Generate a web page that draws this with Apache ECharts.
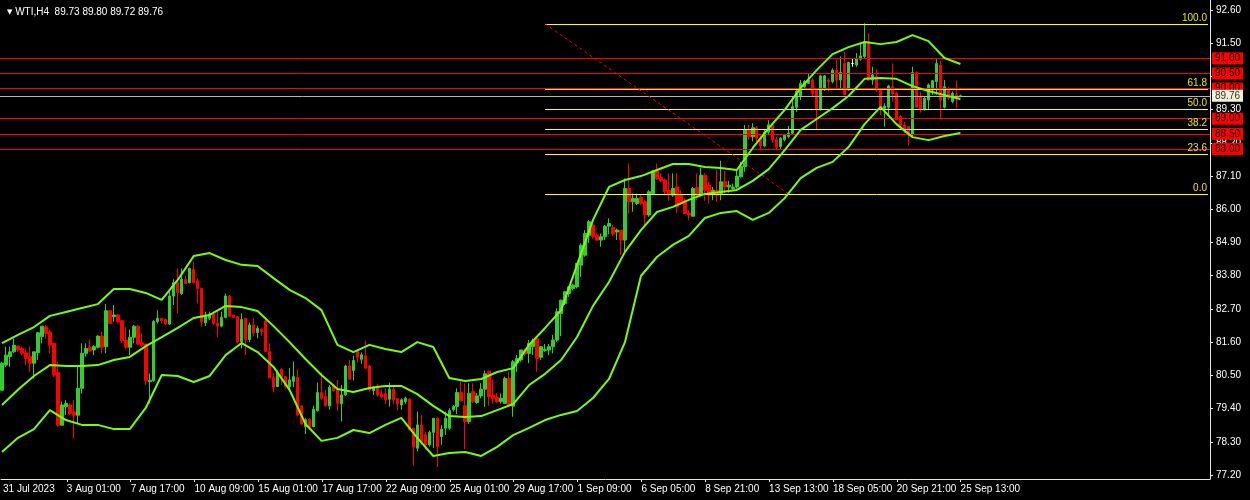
<!DOCTYPE html>
<html><head><meta charset="utf-8">
<script src="https://cdn.jsdelivr.net/npm/echarts/dist/echarts.min.js"></script>
<style>html,body{margin:0;padding:0;background:#000;}#c{width:1250px;height:500px;}</style>
</head><body><div id="c"></div>
<script>
const symbolName = 'WTI,H4';
const open = [80.01,80.84,81.12,81.28,81.47,81.39,81.25,81.12,80.90,81.25,81.78,82.11,81.94,81.56,80.59,78.85,79.46,79.52,79.29,79.18,80.07,81.23,81.43,81.34,81.43,81.80,81.45,82.64,82.44,82.50,82.31,81.67,81.43,81.76,82.13,81.58,81.54,80.29,80.32,82.28,82.39,82.35,82.20,83.13,83.57,83.21,83.68,83.57,84.01,83.63,83.38,82.24,82.39,82.53,82.22,82.13,82.42,83.13,82.50,82.44,81.61,82.39,81.69,82.17,81.92,82.03,82.30,81.29,80.44,80.13,80.70,80.46,80.13,80.30,80.44,79.49,78.80,79.05,78.80,79.33,79.93,79.80,79.49,80.15,80.02,79.56,79.85,80.81,80.66,81.29,81.03,81.15,80.81,80.00,80.15,79.89,79.89,79.71,80.04,79.73,79.52,79.63,79.71,78.75,78.09,78.86,78.53,78.20,78.61,79.08,78.47,78.75,78.75,79.36,79.47,79.93,79.49,78.97,79.96,79.60,79.82,80.04,80.63,79.85,79.78,79.63,79.57,80.40,79.48,80.92,81.01,81.34,81.23,81.45,81.72,81.10,81.32,81.34,81.45,81.67,82.55,82.88,83.21,83.38,83.43,84.15,84.48,85.14,85.48,85.14,84.98,85.09,85.44,85.40,85.25,85.31,84.98,86.69,86.25,86.19,86.39,86.25,85.81,86.52,87.27,87.05,86.97,86.63,86.47,86.74,86.50,86.30,85.88,85.77,86.72,86.50,87.13,86.80,86.50,86.63,86.52,86.91,86.74,86.69,86.74,87.08,87.41,88.63,88.40,88.70,88.35,88.10,88.55,88.80,88.30,88.07,88.30,88.41,88.52,89.38,89.75,90.06,90.17,90.28,89.95,89.29,89.95,90.28,90.23,90.61,90.28,90.83,89.95,90.83,90.78,90.97,91.06,91.55,90.28,90.39,89.93,89.34,89.38,90.06,89.84,89.07,88.79,88.74,88.46,90.53,89.73,89.31,89.62,89.95,90.23,90.78,89.38,89.95,89.57,89.79,89.73];
const high = [80.95,81.45,81.45,81.72,81.50,81.45,81.39,81.45,81.28,81.94,82.13,82.17,82.00,81.56,80.95,79.63,79.68,79.57,79.68,80.78,81.56,81.56,81.69,81.50,81.83,81.94,82.86,82.64,82.83,82.53,82.33,82.09,82.02,82.17,82.17,81.89,81.54,80.56,82.33,82.66,82.39,82.39,83.27,83.68,84.04,84.04,83.79,84.07,84.26,83.71,83.38,82.61,82.61,82.55,82.61,82.61,83.21,83.16,82.50,82.46,82.55,82.39,82.25,82.39,82.14,82.06,82.36,81.56,80.59,80.66,80.74,80.48,80.74,80.96,80.70,79.49,79.08,79.08,79.49,80.26,80.59,80.02,80.18,80.18,80.35,80.18,80.85,81.01,81.15,81.37,81.26,81.65,80.85,80.15,80.22,80.04,80.07,80.26,80.18,79.74,79.74,79.80,79.74,78.75,79.30,79.19,78.61,78.67,79.08,79.11,78.86,79.30,79.41,79.52,80.07,80.30,80.24,80.24,80.24,79.91,80.24,80.66,80.66,80.37,79.91,79.90,80.46,80.62,81.01,81.17,81.34,81.39,81.67,81.72,81.72,81.47,81.54,81.54,81.84,82.72,83.01,83.30,83.45,83.54,84.21,84.87,85.31,85.64,85.53,85.20,85.20,85.48,85.70,85.48,85.36,85.31,87.02,87.52,86.52,86.52,86.47,86.30,86.63,87.30,87.52,87.19,87.02,87.19,87.19,87.19,86.63,86.36,85.97,86.74,87.19,87.38,87.19,86.91,86.74,87.30,87.61,87.27,86.94,86.85,87.30,87.57,88.79,88.80,88.85,88.75,88.45,88.65,88.95,88.85,88.40,88.40,88.50,88.76,89.73,89.95,90.28,90.28,90.50,90.34,90.01,90.45,90.45,90.34,90.67,90.95,91.06,91.22,90.89,91.00,91.17,91.50,92.16,91.83,90.72,90.64,89.93,89.51,90.12,90.83,89.90,89.12,88.90,88.76,90.72,90.56,89.90,89.73,90.17,90.28,90.97,90.92,90.28,90.06,89.90,90.26,89.80];
const low = [79.98,80.78,80.78,81.23,81.28,81.17,80.84,80.62,80.40,81.01,81.56,81.72,81.23,80.45,78.80,78.85,79.18,79.18,78.41,78.91,79.90,81.12,81.28,81.17,81.39,81.23,81.23,82.22,82.28,82.22,81.56,81.36,81.17,81.56,81.50,81.45,80.18,79.57,80.29,82.22,82.22,82.17,82.17,82.83,82.55,83.16,83.52,83.54,83.54,82.88,82.11,82.13,82.33,82.17,81.76,82.09,82.39,82.44,82.39,81.56,81.39,81.17,81.60,81.79,81.73,81.81,81.29,80.41,79.93,80.11,80.18,80.07,79.96,80.11,79.14,78.86,78.56,78.69,78.78,79.30,79.69,79.47,79.36,79.96,79.33,78.97,79.82,80.35,80.33,80.92,80.88,80.70,79.96,79.85,79.80,79.74,79.56,79.47,79.56,79.33,79.36,79.56,78.69,77.50,77.98,78.20,78.05,78.14,78.09,77.46,78.20,78.53,78.69,79.30,79.22,79.63,78.05,78.89,79.58,79.56,79.74,79.45,79.49,79.56,79.58,79.57,79.57,79.46,79.13,80.62,80.95,81.14,80.90,81.17,80.62,81.01,81.28,81.17,81.23,81.61,81.80,82.83,83.10,83.32,83.38,83.76,84.43,84.89,85.03,84.96,84.76,84.98,85.18,85.11,84.98,84.48,84.54,85.86,85.92,86.14,86.14,85.47,85.75,86.47,86.97,86.91,86.47,86.28,86.41,85.88,86.14,85.84,85.64,85.75,86.30,86.47,86.28,86.19,86.30,86.25,86.30,86.52,86.55,86.63,86.69,87.05,87.24,88.30,88.25,88.20,87.95,88.05,88.45,88.20,87.95,88.00,88.25,88.35,88.46,89.23,89.62,89.95,90.15,89.73,88.63,89.27,89.93,89.90,90.17,90.01,90.01,89.79,89.93,90.72,90.72,90.92,91.00,90.26,90.12,89.90,89.12,88.74,89.12,89.57,88.96,88.74,88.52,88.10,88.41,89.38,89.20,89.27,89.31,89.79,89.79,88.98,89.34,89.62,89.51,89.34,89.72];
const close = [80.90,81.17,81.28,81.50,81.34,81.23,81.06,80.90,81.28,81.91,82.13,81.89,81.50,80.51,78.85,79.52,79.57,79.24,79.18,80.07,81.23,81.39,81.31,81.45,81.80,81.43,82.64,82.22,82.50,82.28,81.65,81.43,81.76,82.13,81.54,81.50,80.32,80.34,82.28,82.39,82.31,82.20,83.13,83.57,83.24,83.68,83.54,84.04,83.57,83.38,82.28,82.50,82.53,82.22,82.13,82.42,83.13,82.46,82.42,81.61,82.35,81.69,82.17,81.90,82.06,81.95,81.29,80.41,80.11,80.59,80.44,80.13,80.35,80.46,79.19,78.89,79.03,78.78,79.38,79.93,79.74,79.49,80.11,80.00,79.58,79.85,80.81,80.37,80.99,81.10,81.18,80.74,80.02,80.11,79.85,79.78,79.69,80.04,79.69,79.56,79.69,79.74,78.69,78.12,78.86,78.31,78.20,78.61,79.08,78.14,78.72,79.08,79.33,79.47,79.93,79.67,78.97,79.91,79.63,79.82,80.04,80.55,79.80,79.74,79.63,79.74,80.40,79.52,80.95,81.06,81.34,81.21,81.56,81.65,81.06,81.45,81.36,81.45,81.67,82.61,82.99,83.27,83.43,83.49,84.21,84.81,85.20,85.59,85.09,84.98,85.09,85.44,85.53,85.18,85.31,84.98,86.69,86.25,86.36,86.36,86.19,85.81,86.58,87.27,87.02,86.94,86.58,86.50,86.69,86.08,86.19,85.86,85.81,86.69,86.47,87.13,86.63,86.47,86.63,86.47,86.91,86.74,86.80,86.74,87.10,87.43,88.63,88.40,88.70,88.35,88.10,88.55,88.80,88.30,88.05,88.35,88.46,88.52,89.40,89.90,90.17,90.23,90.28,89.84,89.29,90.42,90.42,90.23,90.61,90.28,90.53,89.79,90.86,90.83,91.00,91.08,91.55,90.28,90.45,89.95,89.38,89.42,90.08,89.82,88.96,88.79,88.63,88.46,90.53,89.38,89.29,89.68,90.12,90.26,90.83,89.62,90.06,89.68,89.84,89.71,89.76];

// Bollinger bands read every 4th bar
const bandStep = 4;
const upperBand = [81.57,81.84,82.10,82.47,82.60,82.73,82.86,83.36,83.36,83.23,83.00,83.66,84.45,84.55,84.32,84.16,84.12,83.72,83.33,83.06,82.66,81.51,81.27,81.51,81.37,81.27,81.60,81.44,80.41,80.31,80.38,80.61,80.74,81.51,82.07,82.66,84.16,85.65,86.74,86.97,87.10,87.30,87.50,87.50,87.40,87.37,87.30,88.03,88.69,89.29,90.02,90.61,91.14,91.37,91.54,91.47,91.54,91.77,91.57,91.01,90.81];
const middleBand = [79.52,80.02,80.48,80.84,80.81,80.81,80.84,81.01,81.11,81.47,81.77,82.07,82.40,82.50,82.80,82.76,82.63,82.13,81.60,81.04,80.51,80.05,79.95,80.08,80.15,80.15,79.88,79.49,79.15,79.12,79.15,79.35,79.55,80.18,80.55,81.01,81.77,82.80,83.59,84.59,85.31,85.91,86.08,86.31,86.51,86.57,86.64,86.94,87.33,87.96,88.63,88.99,89.35,89.75,90.32,90.35,90.32,90.08,89.92,89.78,89.65];
const lowerBand = [77.96,78.43,78.72,79.35,79.02,78.86,78.86,78.72,78.72,79.42,80.51,80.48,80.28,80.48,81.17,81.57,81.27,80.78,80.02,78.89,78.33,78.43,78.69,78.59,78.86,79.09,78.43,77.83,77.93,77.96,77.83,78.13,78.52,78.76,79.02,79.19,79.32,79.75,80.38,81.60,83.79,84.42,84.82,85.12,85.71,85.88,85.94,85.65,85.88,86.37,87.03,87.37,87.57,88.06,88.82,89.39,88.82,88.39,88.29,88.43,88.53];

const tickBars = [0,16,32,48,64,80,96,112,128,144,160,176,192,208,224,240];
const tickLabels = ['31 Jul 2023','3 Aug 01:00','7 Aug 17:00','10 Aug 09:00','15 Aug 01:00','17 Aug 17:00','22 Aug 09:00','25 Aug 01:00','29 Aug 17:00','1 Sep 09:00','6 Sep 05:00','8 Sep 21:00','13 Sep 13:00','18 Sep 05:00','20 Sep 21:00','25 Sep 13:00'];
const priceTicks = [77.20,78.30,79.40,80.50,81.60,82.70,83.80,84.90,86.00,87.10,88.20,89.30,90.40,91.50,92.60];

const levelLines = [91.00, 90.50, 90.00, 89.00, 88.50, 88.00];
const fibRatios = [0.0, 23.6, 38.2, 50.0, 61.8, 100.0];
const fibHigh = 92.14, fibLow = 86.51;
const fibStartBar = 136, fibEndBar = 197;
const totalSlots = 303;

const FONT = "'Liberation Sans', Arial, sans-serif";
const cats = Array.from({length: totalSlots}, (_, i) => { const k = tickBars.indexOf(i); return k >= 0 ? tickLabels[k] : ''; });
const candles = open.map((o, i) => [o, close[i], low[i], high[i]]);
const bandData = arr => arr.map((v, k) => [k * bandStep, v]);
const last = open.length - 1;
const lastPrice = close[last];

const fibLevel = r => fibLow + (fibHigh - fibLow) * r / 100;

const levelMarks = levelLines.map(v => ({
  yAxis: v,
  lineStyle: {color: '#ff0000', width: 1, type: 'solid'},
  label: {show: true, position: 'end', distance: 2, formatter: () => v.toFixed(2),
    backgroundColor: '#ff0000', color: '#000000', padding: [1, 3, 0, 3], fontSize: 10, lineHeight: 11, fontFamily: FONT}
}));
levelMarks.push({
  yAxis: lastPrice,
  lineStyle: {color: '#b4b4b4', width: 1, type: 'solid'},
  label: {show: true, position: 'end', distance: 2, formatter: () => lastPrice.toFixed(2),
    backgroundColor: '#f4f0d8', color: '#303030', padding: [1, 3, 0, 3], fontSize: 10, lineHeight: 11, fontFamily: FONT}
});
const fibMarks = fibRatios.map(r => [
  {coord: [fibStartBar, fibLevel(r)], lineStyle: {color: '#ffff00', width: 1, type: 'solid'},
   label: {show: true, position: 'insideEndTop', distance: 1, formatter: () => r.toFixed(1), color: '#e6e600', fontSize: 10, fontFamily: FONT}},
  {coord: [totalSlots - 1, fibLevel(r)]}
]);
fibMarks.push([
  {coord: [fibStartBar, fibHigh], lineStyle: {color: '#ff0000', width: 1, type: [3, 3]}, label: {show: false}},
  {coord: [fibEndBar, fibLow]}
]);

const chart = echarts.init(document.getElementById('c'), null, {renderer: 'canvas'});
const bandSeries = (name, arr) => ({
  name, type: 'line', xAxisIndex: 0, yAxisIndex: 0, data: bandData(arr), showSymbol: false, symbol: 'none',
  lineStyle: {color: '#7cfc00', width: 2}, z: 5, silent: true, animation: false
});
chart.setOption({
  backgroundColor: '#000000',
  animation: false,
  textStyle: {fontFamily: FONT},
  title: {
    text: '{t|▼} ' + symbolName + '  ' + [open[last], high[last], low[last], close[last]].map(v => v.toFixed(2)).join(' '),
    left: 2, top: 2,
    textStyle: {color: '#ffffff', fontSize: 10, fontWeight: 'normal', fontFamily: FONT,
      rich: {t: {fontSize: 7, color: '#ffffff', fontFamily: "'DejaVu Sans'"}}}
  },
  grid: [
    {left: -2, right: 40, top: 10, bottom: 25},
    {left: -2, right: 40, top: 0, bottom: 21}
  ],
  xAxis: [
    {type: 'category', gridIndex: 0, data: cats, boundaryGap: true, show: false},
    {type: 'category', gridIndex: 1, data: cats, boundaryGap: true,
      axisLine: {show: true, lineStyle: {color: '#e8e8dc', width: 1}},
      axisTick: {show: true, alignWithLabel: true, length: 3, interval: (i, v) => v !== '' && i > 0, lineStyle: {color: '#e8e8dc'}},
      axisLabel: {show: true, interval: (i, v) => v !== '', align: 'left', color: '#ffffff', fontSize: 10, margin: 5, fontFamily: FONT},
      splitLine: {show: false}}
  ],
  yAxis: [
    {type: 'value', gridIndex: 0, position: 'right', min: priceTicks[0], max: priceTicks[priceTicks.length - 1], interval: 1.1,
      axisLine: {show: false}, axisTick: {show: true, length: 3, lineStyle: {color: '#e8e8dc'}},
      axisLabel: {color: '#ffffff', fontSize: 10, margin: 6, fontFamily: FONT, formatter: v => v.toFixed(2)},
      splitLine: {show: false}},
    {type: 'value', gridIndex: 1, position: 'right', min: 0, max: 1,
      axisLine: {show: true, lineStyle: {color: '#e8e8dc', width: 1}}, axisTick: {show: false}, axisLabel: {show: false}, splitLine: {show: false}}
  ],
  series: [
    {type: 'line', xAxisIndex: 0, yAxisIndex: 0, data: [], z: 1, silent: true,
      markLine: {silent: true, symbol: ['none', 'none'], animation: false, data: levelMarks.concat(fibMarks)}},
    {type: 'candlestick', xAxisIndex: 0, yAxisIndex: 0, data: candles, barWidth: 3, z: 3,
      itemStyle: {color: '#32cd32', color0: '#ff0000', borderColor: '#32cd32', borderColor0: '#ff0000', borderColorDoji: '#ffffff', borderWidth: 1}},
    bandSeries('upper', upperBand),
    bandSeries('middle', middleBand),
    bandSeries('lower', lowerBand)
  ]
});
</script>
</body></html>
